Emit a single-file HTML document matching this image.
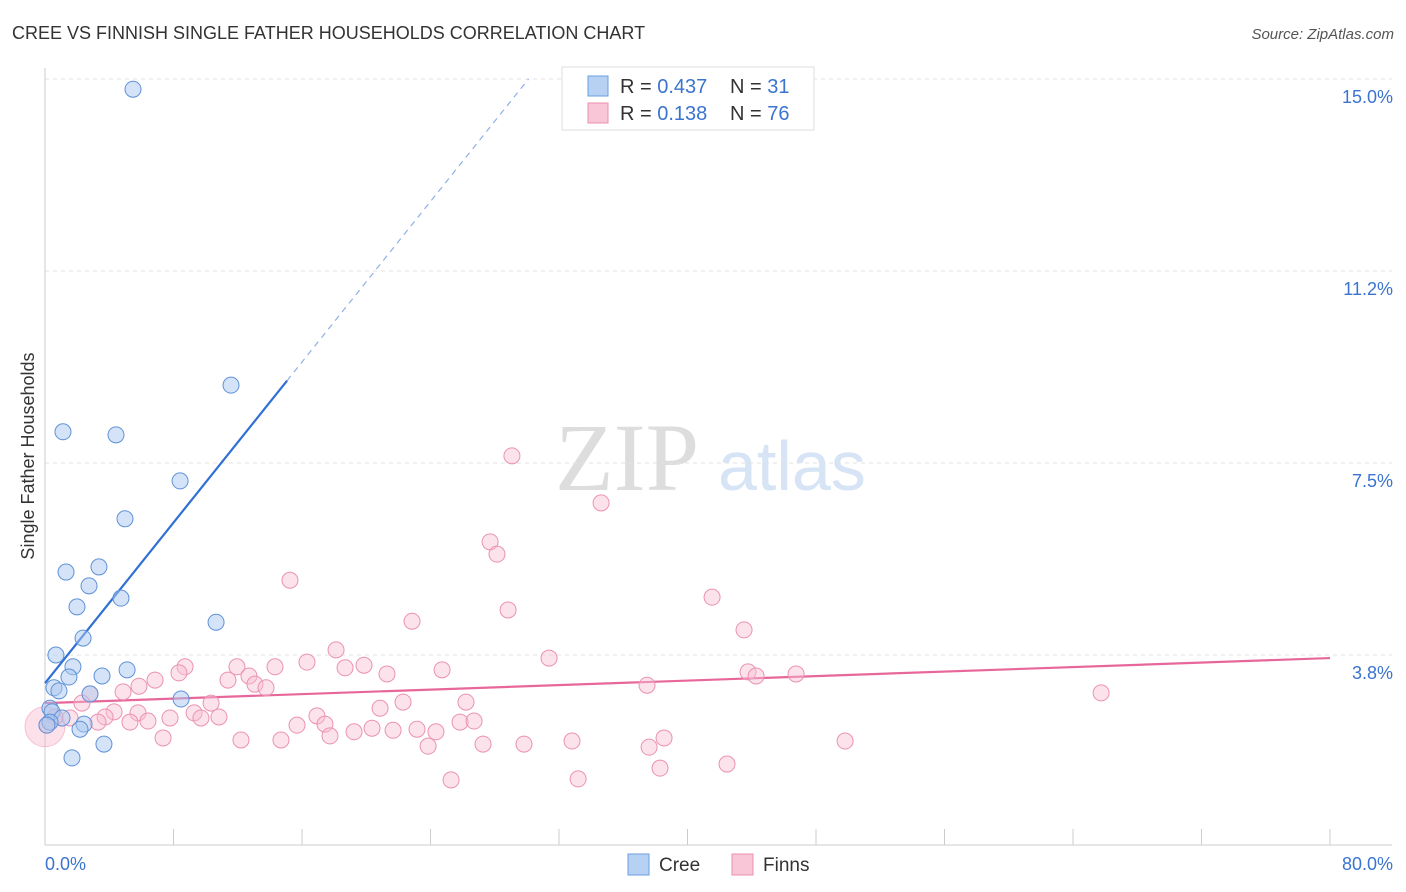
<!DOCTYPE html>
<html><head><meta charset="utf-8"><style>
body{margin:0;background:#fff;font-family:"Liberation Sans",sans-serif;}
#wrap{position:relative;width:1406px;height:892px;overflow:hidden;}
</style></head><body>
<div id="wrap">
<svg id="svg" width="1406" height="892" xmlns="http://www.w3.org/2000/svg">
<text x="12" y="39" font-size="18" fill="#333">CREE VS FINNISH SINGLE FATHER HOUSEHOLDS CORRELATION CHART</text>
<text x="1394" y="39" font-size="15" fill="#555" text-anchor="end" font-style="italic">Source: ZipAtlas.com</text>
<text x="0" y="0" transform="translate(34,456) rotate(-90)" font-size="18" fill="#333" text-anchor="middle">Single Father Households</text>
<text x="555" y="490" font-size="96" fill="#ddd" font-family="Liberation Serif">ZIP</text>
<text x="718" y="490" font-size="70" fill="#d6e4f5">atlas</text>
<g id="grid"></g><g id="axes"></g><g id="lines"></g><g id="pts"></g>
<g>
<rect x="562" y="67" width="252" height="63" fill="#fff" stroke="#ddd"/>
<rect x="588" y="76" width="20" height="20" fill="#b7d1f3" stroke="#6a9ee0"/>
<rect x="588" y="103" width="20" height="20" fill="#f8c6d6" stroke="#ec8fae"/>
<text x="620" y="93" font-size="20" fill="#333">R = <tspan fill="#3a74d0">0.437</tspan></text>
<text x="730" y="93" font-size="20" fill="#333">N = <tspan fill="#3a74d0"> 31</tspan></text>
<text x="620" y="120" font-size="20" fill="#333">R = <tspan fill="#3a74d0"> 0.138</tspan></text>
<text x="730" y="120" font-size="20" fill="#333">N = <tspan fill="#3a74d0">76</tspan></text>
</g>
<g>
<rect x="628" y="854" width="21" height="21" fill="#b7d1f3" stroke="#6a9ee0"/>
<text x="659" y="871" font-size="19" fill="#333">Cree</text>
<rect x="732" y="854" width="21" height="21" fill="#f8c6d6" stroke="#ec8fae"/>
<text x="763" y="871" font-size="19" fill="#333">Finns</text>
</g>
</svg></div>
<script>
const yTicks=[3.75,7.5,11.25,15];
const yTickLabels=["3.8%","7.5%","11.2%","15.0%"];
const xTickLabels=["0.0%","80.0%"];
const creeX=[5.48,11.58,1.12,4.42,8.41,4.98,1.31,3.36,2.74,4.73,1.99,10.65,2.37,0.68,1.74,5.11,1.49,3.55,0.56,0.87,2.80,8.47,0.31,0.44,1.06,2.43,2.18,0.31,3.67,1.68,0.12];
const creeY=[14.80,9.02,8.11,8.05,7.15,6.41,5.37,5.47,5.10,4.86,4.69,4.39,4.08,3.75,3.52,3.46,3.32,3.34,3.11,3.05,2.99,2.89,2.71,2.64,2.52,2.40,2.30,2.44,2.01,1.74,2.38];
const finnX=[29.07,34.62,27.71,28.14,15.25,28.83,22.85,41.53,43.52,18.12,31.38,16.31,8.72,11.95,14.32,18.68,19.86,24.72,8.34,12.70,21.29,43.77,44.27,46.76,6.85,11.39,13.07,13.76,5.85,4.86,2.80,37.48,65.75,22.29,26.21,10.34,2.30,20.86,4.30,9.28,5.79,3.74,7.78,10.83,9.71,16.93,0.62,1.56,6.41,5.29,25.84,26.71,15.69,17.43,3.30,20.36,21.67,23.16,24.34,17.74,19.24,7.35,12.20,14.69,38.54,32.81,29.82,27.27,23.85,37.61,49.81,38.29,42.46,25.28,33.19,0.12];
const finnY=[7.64,6.72,5.96,5.72,5.21,4.63,4.41,4.88,4.24,3.85,3.69,3.61,3.52,3.52,3.52,3.50,3.55,3.46,3.40,3.34,3.38,3.42,3.34,3.38,3.26,3.26,3.18,3.11,3.14,3.03,2.99,3.16,3.01,2.83,2.83,2.81,2.81,2.71,2.64,2.62,2.62,2.54,2.52,2.54,2.52,2.56,2.54,2.52,2.46,2.44,2.44,2.46,2.38,2.40,2.44,2.32,2.28,2.30,2.25,2.17,2.25,2.13,2.09,2.09,2.13,2.07,2.01,2.01,1.97,1.95,2.07,1.54,1.62,1.31,1.33,2.38];
const creeTrend=[3.20,0.392];
const finnTrend=[2.81,0.011];
const X=v=>45+v/80*1285, Y=v=>847-v/15*768;
const NS="http://www.w3.org/2000/svg";
function mk(t,a,p){const e=document.createElementNS(NS,t);for(const k in a)e.setAttribute(k,a[k]);document.getElementById(p).appendChild(e);return e;}
yTicks.forEach((t,i)=>{
 const g=mk('line',{x1:45,x2:1392,y1:Y(t),y2:Y(t),stroke:'#e2e2e2','stroke-dasharray':'4,4'},'grid');
 
 
 const l=mk('text',{x:1393,y:Y(t)+24,'font-size':18,fill:'#3a74d0','text-anchor':'end'},'axes');
 l.textContent=yTickLabels[i];
 
 
});
const ax=mk('line',{x1:45,x2:1392,y1:845,y2:845,stroke:'#ccc'},'axes');


const ay=mk('line',{x1:45,x2:45,y1:68,y2:845,stroke:'#ccc'},'axes');


for(let i=0;i<=10;i++){const t=mk('line',{x1:X(i*8),x2:X(i*8),y1:829,y2:845,stroke:'#ccc'},'axes');
 
 }
[[0,'start',45],[80,'end',1393]].forEach((d,i)=>{const t=mk('text',{x:d[2],y:870,'font-size':18,fill:'#3a74d0','text-anchor':d[1]},'axes');t.textContent=xTickLabels[i];
 
 });
// trend lines
const cb=creeTrend, fb=finnTrend;
let l1=mk('line',{x1:X(0),y1:Y(cb[0]),x2:X(15.07),y2:Y(cb[0]+cb[1]*15.07),stroke:'#2f6fd6','stroke-width':2.2},'lines');


const xe=(15-cb[0])/cb[1];
let l2=mk('line',{x1:X(15.07),y1:Y(cb[0]+cb[1]*15.07),x2:X(xe),y2:Y(15),stroke:'#8fb1e6','stroke-width':1.2,'stroke-dasharray':'6,5'},'lines');


let l3=mk('line',{x1:X(0),y1:Y(fb[0]),x2:X(80),y2:Y(fb[0]+fb[1]*80),stroke:'#e8679a','stroke-width':2.2},'lines');


const big=mk('circle',{cx:X(0),cy:Y(2.35),r:20,fill:'rgba(245,170,195,0.35)',stroke:'rgba(232,120,160,0.4)'},'pts');


finnX.forEach((v,i)=>{const c=mk('circle',{cx:X(v),cy:Y(finnY[i]),r:8,fill:'rgba(248,190,210,0.45)',stroke:'#eb92b3','stroke-width':1},'pts');
 
 });
creeX.forEach((v,i)=>{const c=mk('circle',{cx:X(v),cy:Y(creeY[i]),r:8,fill:'rgba(170,200,240,0.5)',stroke:'#5f92d8','stroke-width':1},'pts');
 
 });
</script>
</body></html>
